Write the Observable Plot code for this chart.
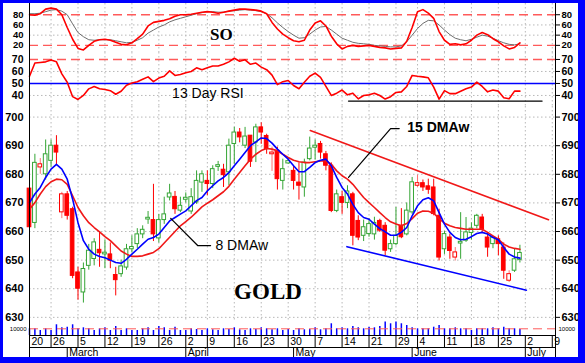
<!DOCTYPE html>
<html><head><meta charset="utf-8">
<script src="https://cdn.jsdelivr.net/npm/d3@7"></script>
<script src="https://cdn.jsdelivr.net/npm/@observablehq/plot@0.6"></script>
<style>
html,body{margin:0;padding:0;background:#fff;}
#chart{position:relative;width:585px;height:363px;background:#fff;overflow:hidden;}
#chart svg{position:absolute;left:0;top:0;}
.bd{position:absolute;background:#0000ff;z-index:10;}
</style></head><body>
<div id="chart"></div>
<script>
// ---- data (trading-day index 0 = Feb 20) ----
const open  = [675,663,682.4,680,684.7,690,666.7,673,667.8,645.7,638.7,648,650.4,653.6,652,652,644.8,645.1,647.4,654,655.6,659,664.4,664,657.6,664,671.9,672.1,667.3,671.3,667,670.2,677.1,677.7,676.6,682.8,681.6,680.7,690.6,694.6,690,693.5,691.1,696.4,693.4,687,688.2,677.7,684,681.2,677.1,675.4,685.3,689.5,690.6,687,683,667.2,672,670,673,663.7,658.5,659.1,659,663.7,662,653.8,655.6,662,659,666.7,676,676.9,675.8,675.4,665.5,653.8,657.9,650.9,656,656.8,659.5,662,664.9,657.9,655.6,657.3,654.4,642.8,646.3,650.1];
const high  = [676,687,685.5,692,692,693.5,673.7,674,668.5,647.5,649,655.5,657.5,660,657,656,647.5,650,655.5,658.5,661,662,667,676.5,666,672,676.5,674,672,673.5,675,681.2,681.2,681.2,683,684.5,683.5,692.3,696.4,696,696.4,693.5,697.5,698,694,689.5,689.5,685.3,685.3,682.9,684,685.3,693,692,691.5,688,684,674.5,674,676,673.7,665.5,664,664.5,665,664.3,663.1,657,668.4,668,670,678.9,679.7,678,678.3,678.3,667.8,660,659.1,654.4,666.6,664.9,663,666,666,659.7,658,658.5,656,646.3,653.8,655.2];
const low   = [660,661,680,678,682.5,683,664.5,664,643.5,636,635,646.5,648,647.5,647,647,637.5,644,646.5,652.5,654,657.5,662.5,656.5,656,662.5,670.7,666,666.6,670,666,669.5,673.7,672.5,675,681,675.4,676,683.5,691,689,682.4,684.1,690.5,687,681,674.5,674.5,683.5,674.5,671,672,684.7,685,685.3,681.2,666.6,666.6,666,668,655,656.8,656.5,658,657,659.7,651.5,652.7,655,657.5,658.5,666,675.4,674,673,665.5,649.7,652,650.3,649.7,650.3,656.2,657,661,659.7,651,654,651.5,643.3,642.2,645.7,649];
const close = [661.5,684,683.5,687,690,687.6,673,665.5,644.5,640,646.9,653.3,656.2,652.4,652.6,649.8,643,647.8,653.8,654.4,659,660.6,664.6,659,664,666,673.3,667.8,669,671.6,672,677.7,680,676.6,681.8,683,679.7,690,694.6,692.9,693.2,684.4,696.4,694.6,688.8,687.6,678.3,681.8,684.4,677.7,676,684.1,689,689.8,687.6,683,667.2,673,670,674,658.5,657.9,661.5,662.6,663,660.3,653.3,655.6,658.5,658,667.3,677.2,676.9,675.4,674.6,666.1,650.9,659.1,653.2,652.7,656.2,659.7,661,665.5,660.8,654.4,657.9,655.6,646.3,645.1,650.3,652.5];
const dma8  = [670.1,673.1,675.4,678.9,681.8,683.5,681.8,678.3,671.3,663.1,656.8,653.8,652.1,651.3,650.8,650,649.2,648.9,650.3,652.1,653.8,655.6,657.3,657.9,659.1,661.4,663.7,664.9,666.1,667.2,669,670.8,671.9,674.2,676,677.7,678.9,680.6,683,685.3,687.6,690,691.3,692.7,692.5,690.9,688.8,687,685.3,683,680.9,680.9,682.4,684.1,684.9,685.3,683,678.9,675.4,673.1,669.5,666.6,664.9,664.3,662.6,661,659.9,658.7,658.7,659.7,661.4,665.5,669,671.1,671.8,670.7,666.6,662.6,659.7,657.9,657.1,657.3,658.2,659.3,659.7,659.1,657.9,657.1,654.4,652.1,651.1,650.7];
const dma15 = [667.8,670.1,673.1,675.7,677.4,678.3,678.1,676.5,672.5,668.4,665.5,663.1,661.4,659.9,658.2,656.8,655,653.2,652.1,651.3,651.3,651.5,652.1,652.7,654,656,658,660,662,663.5,665,666.8,668.6,669.9,671.1,672.5,673.9,675.8,678.3,680.6,683,685.3,687,688.3,689,688.8,688.2,687,685.9,684.9,684.4,684.1,684.1,684.4,684.7,684.7,683.5,681.2,679.5,678.3,676.5,674.2,671.9,670.1,668.4,666.6,664.9,663.4,662.6,662,662.8,664.5,666.4,667.2,667.1,666.4,664.5,662.9,662,661.4,661.1,660.8,660.8,660.8,660.8,659.7,658.5,657.3,655.6,654.6,654.1,653.8];
const soK   = [80,79,82,91,93,91,80,55,32,14,11,20,28,31,32,30,26,22,21,25,33,42,58,65,67,69,72,77,80,80,81,83,85,86,85,83,85,87,89,91,91,90,89,87,82,65,52,42,35,29,27,30,50,64,68,58,38,23,13,18,20,18,19,20,18,16,15,13,14,15,28,55,86,90,83,73,47,30,22,23,21,23,30,40,45,41,33,27,19,13,16,25];
const soD   = [82,82,83,86,89,90,87,80,62,45,37,31,30,31,31,31,29,27,25,26,30,35,44,50,56,60,66,70,73,76,79,82,84,86,86,85,85,87,88,89,90,89,88,86,82,74,64,55,47,40,34,35,42,50,56,57,50,42,34,30,26,24,23,22,20,19,18,17,17,19,27,40,53,63,69,68,60,50,41,34,31,29,32,36,40,38,34,29,25,22,21,23];
const rsi13 = [56,67,67.5,68,69.5,68,58,51,39,36.7,40,45.5,47.5,45.6,45,44,41,43.5,48.5,50.3,51.5,53.5,55.5,51.5,54.5,56,60.5,56.7,57.5,59,60,63,61.5,63,64.5,64.5,66,68,71,68.5,69.7,66,67,63.6,61.5,57,49,51.5,52.5,48.3,45.6,51,56,58.6,55,47.5,40,41.9,44.5,40.5,41.9,37.2,40,40.5,41.9,40,37,39,42.5,43,47.5,56.7,56,55.5,54.7,47,37,44,41.5,41.5,43.5,45.6,47,51.1,47.5,43,44.5,43.6,38.1,37.2,43.6,43.6];
const volume = [10000,10000,7500,10000,7500,16000,11500,12400,16000,10000,11500,10000,7500,10000,11500,7500,13400,7500,10000,7500,7500,10000,11500,7500,13400,11500,7500,12400,7500,7500,10000,9000,7500,10000,8500,7500,10000,9000,11500,8500,7500,10000,9000,11500,10000,8500,10000,7500,9000,7500,10000,8500,9000,11500,8500,10000,17500,10000,11500,10000,13400,11500,10000,12400,11500,13400,20000,17500,20000,17500,15000,11500,10000,10000,10000,12400,15000,10000,10000,11500,10000,10000,7500,10000,10000,10000,11500,10000,12400,10000,10000,9000];
const weekIdx = [0,4,9,14,19,24,29,33,38,43,48,53,58,63,68,72,77,82,87,92,97];
const weekLbl = ["20","26","5","12","19","26","2","9","16","23","30","7","14","21","29","4","11","18","25","2","9"];
const monthIdx = [7,29,49,71,92];
const monthLbl = ["March","April","May","June","July"];
const soTicks = [80,60,40,20];
const rsiTicks = [70,60,50,40];
const priceTicks = [700,690,680,670,660,650,640,630];
const volTicks = [10000];
const upperTrend = [{x:52.1,y:695.3},{x:96.3,y:664.1}];
const lowerTrend = [{x:58.9,y:654.7},{x:92.2,y:639.5}];
const rsiSupport = [{x:59.2,y:35.3},{x:95.1,y:35.3}];
const lead15 = [{x:59.2,y:678.9},{x:67,y:696},{x:68.6,y:696}];
const lead8  = [{x:26.2,y:664.6},{x:31.2,y:655.1},{x:33.6,y:655.1}];
const labels = {so:{x:35.6,y:41,t:"SO"}, rsi:{x:33.1,y:41.7,t:"13 Day RSI"}, gold:{x:44.25,y:638.9,t:"GOLD"},
  d15:{x:70.1,y:696.4,t:"15 DMAw"}, d8:{x:34.5,y:655.2,t:"8 DMAw"}};

// ---- layout ----
const W = 585, H = 363;
const xDom = [0, 97.6];
const FONT = '"Liberation Sans", Arial, Helvetica, sans-serif';
const SERIF = '"Liberation Serif", "Times New Roman", serif';
const GRID = {stroke:"#b8b8b8", strokeDasharray:"1.5,2.5", strokeWidth:1};
const RDASH = {stroke:"#ff5a5a", strokeDasharray:"9,5", strokeWidth:1.4};
const GREEN = "#35a535", RED = "#ff0000", BLUE = "#0000ff";
const idx = d3.range(close.length);
const candles = idx.map(i => {
  const prev = i ? close[i-1] : open[i];
  const col = close[i] >= prev ? GREEN : RED;
  let lo = Math.min(open[i], close[i]), hi = Math.max(open[i], close[i]);
  if (hi - lo < 0.4) { hi += 0.2; lo -= 0.2; }
  return {i, o:open[i], h:high[i], l:low[i], c:close[i], col, wick: col === RED && close[i] > open[i] ? "#ff7070" : col, fill: close[i] < open[i] ? col : "#ffffff", lo, hi};
});

function panel(top, bottom, ydomain, marks) {
  return Plot.plot({
    width: W, height: H, marginLeft: 29, marginRight: 30, marginTop: top, marginBottom: H - bottom,
    x: {domain: xDom, axis: null},
    y: {domain: ydomain, label: null},
    color: {type: "identity"},
    style: {background: "transparent", fontFamily: FONT, fontSize: "11px", color: "#000", overflow: "visible"},
    marks
  });
}
function axes(ticks, size, fmt = d => String(d)) {
  return [
    Plot.axisY({anchor:"left", ticks, label: null, tickSize:0, tickPadding:6, tickFormat: fmt, fontWeight:"bold", fontSize:size}),
    Plot.axisY({anchor:"right", ticks, label: null, tickSize:4, tickPadding:2, tickFormat: fmt, fontWeight:"bold", fontSize:size})
  ];
}
const vgrid = Plot.ruleX(weekIdx, {x: d => d, ...GRID});

const chart = document.getElementById("chart");
const add = (svg) => chart.appendChild(svg);

// SO panel
add(panel(3, 52, [6, 102], [
  vgrid,
  Plot.ruleY([60, 40], GRID),
  Plot.ruleY([80, 20], RDASH),
  Plot.line(idx, {x: i => i, y: i => soD[i], stroke: "#6e6e6e", strokeWidth: 1}),
  Plot.line(idx, {x: i => i, y: i => soK[i], stroke: RED, strokeWidth: 1.6}),
  Plot.text([labels.so], {x:"x", y:"y", text:"t", fontFamily: SERIF, fontWeight:"bold", fontSize:17}),
  ...axes(soTicks, 9.5)
]));

// RSI panel
add(panel(52, 106, [30.8, 75.8], [
  vgrid,
  Plot.ruleY([60, 40], GRID),
  Plot.ruleY([70], RDASH),
  Plot.ruleY([50], {stroke: BLUE, strokeWidth: 1.6}),
  Plot.line(rsiSupport, {x:"x", y:"y", stroke:"#000", strokeWidth:1.4}),
  Plot.line(idx, {x: i => i, y: i => rsi13[i], stroke: RED, strokeWidth: 1.6}),
  Plot.text([labels.rsi], {x:"x", y:"y", text:"t", fontSize:14}),
  ...axes(rsiTicks, 10.5)
]));

// Price panel
add(panel(106, 320, [628.9, 703.7], [
  vgrid,
  Plot.ruleY(priceTicks, GRID),
  Plot.ruleX(candles, {x:"i", y1:"l", y2:"h", stroke:"wick", strokeWidth:1}),
  Plot.rect(candles, {x1: d => d.i - 0.34, x2: d => d.i + 0.34, y1:"lo", y2:"hi", fill:"fill", stroke:"col", strokeWidth:1}),
  Plot.line(idx, {x: i => i, y: i => dma15[i], stroke: "#f01818", strokeWidth: 1.6}),
  Plot.line(idx, {x: i => i, y: i => dma8[i], stroke: BLUE, strokeWidth: 1.6}),
  Plot.line(upperTrend, {x:"x", y:"y", stroke: "#f01818", strokeWidth: 1.6}),
  Plot.line(lowerTrend, {x:"x", y:"y", stroke: BLUE, strokeWidth: 1.6}),
  Plot.line(lead15, {x:"x", y:"y", stroke:"#000", strokeWidth:1.2}),
  Plot.line(lead8, {x:"x", y:"y", stroke:"#000", strokeWidth:1.2}),
  Plot.text([labels.d15], {x:"x", y:"y", text:"t", textAnchor:"start", fontSize:14, fontWeight:"bold"}),
  Plot.text([labels.d8], {x:"x", y:"y", text:"t", textAnchor:"start", fontSize:14}),
  Plot.text([labels.gold], {x:"x", y:"y", text:"t", fontFamily: SERIF, fontWeight:"bold", fontSize:23}),
  ...axes(priceTicks, 11)
]));

// Volume panel
add(panel(320, 335, [0, 22400], [
  Plot.ruleX(idx, {x: i => i, y1: 0, y2: i => volume[i], stroke: BLUE, strokeWidth: 1.5}),
  Plot.ruleY(volTicks, {...RDASH, strokeWidth: 1}),
  Plot.axisY({anchor:"left", ticks: volTicks, label: null, tickSize:0, tickPadding:3, tickFormat: d => String(d), fontSize:6}),
  Plot.axisY({anchor:"right", ticks: volTicks, label: null, tickSize:0, tickPadding:3, tickFormat: d => String(d), fontSize:6})
]));

// date row
add(Plot.plot({
  width: W, height: H, marginLeft: 29, marginRight: 30, marginTop: 335, marginBottom: H - 347,
  x: {domain: xDom, axis: null},
  style: {background: "transparent", fontFamily: FONT, fontSize: "10px", color: "#000", overflow: "visible"},
  marks: [
    Plot.frame({stroke: "#000"}),
    Plot.ruleX(weekIdx, {x: d => d, stroke: "#000"}),
    Plot.text(weekIdx, {x: d => d, text: (d, i) => weekLbl[i], frameAnchor: "middle", textAnchor: "start", dx: 2, dy: 0, fontSize: 10.5, fill: "#000"})
  ]
}));

// month row
add(Plot.plot({
  width: W, height: H, marginLeft: 29, marginRight: 30, marginTop: 347, marginBottom: H - 357,
  x: {domain: xDom, axis: null},
  style: {background: "transparent", fontFamily: FONT, fontSize: "10px", color: "#000", overflow: "visible"},
  marks: [
    Plot.ruleX(monthIdx, {x: d => d, stroke: "#000"}),
    Plot.text(monthIdx, {x: d => d, text: (d, i) => monthLbl[i], frameAnchor: "middle", textAnchor: "start", dx: 2, dy: 0.5, fontSize: 10.5, fill: "#000"})
  ]
}));

// outer vertical axis lines
add(Plot.plot({
  width: W, height: H, marginLeft: 29, marginRight: 30, marginTop: 3, marginBottom: 6,
  x: {domain: xDom, axis: null},
  style: {background: "transparent", overflow: "visible"},
  marks: [Plot.ruleX(xDom, {stroke: "#000"})]
}));

// blue frame
[["left:0;top:0;width:3px;height:363px"],["left:0;top:0;width:585px;height:3px"],
 ["right:0;top:0;width:7px;height:363px"],["left:0;bottom:0;width:585px;height:6px"]].forEach(([css]) => {
  const d = document.createElement("div"); d.className = "bd"; d.style.cssText = css; chart.appendChild(d);
});
</script>
</body></html>
